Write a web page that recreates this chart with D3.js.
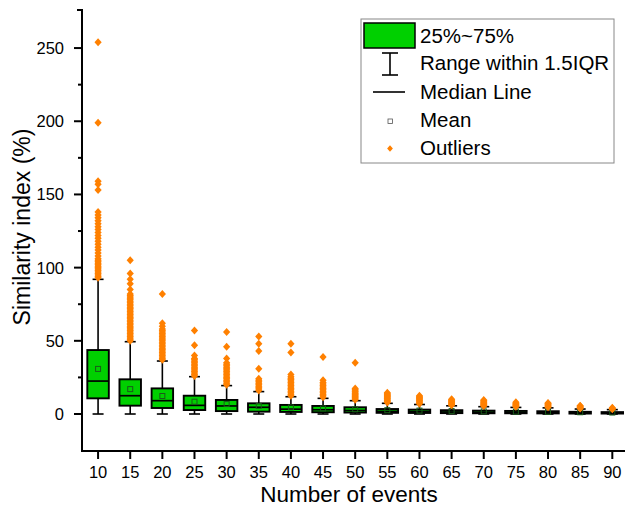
<!DOCTYPE html>
<html><head><meta charset="utf-8">
<script src="https://cdn.jsdelivr.net/npm/d3@7"></script>
<style>body{margin:0;background:#fff}svg{display:block}text{font-family:"Liberation Sans",Arial,sans-serif}</style>
</head><body>
<svg id="c" width="625" height="515"></svg>
<script>
const categories = ["10","15","20","25","30","35","40","45","50","55","60","65","70","75","80","85","90"];
const whiskerLow = [0,0,0,0,0,0,0,0,0,0,0,0,0,0,0,0,0];
const q1 =        [10.7,5.7,4.1,2.7,2.0,1.6,1.4,1.2,1.0,0.8,0.7,0.6,0.5,0.5,0.4,0.3,0.3];
const median =    [22.5,12.5,9.1,5.9,5.5,4.6,3.3,2.9,2.4,1.8,1.6,1.4,1.2,1.1,1.0,0.8,0.7];
const q3 =        [43.7,23.7,17.5,12.5,9.6,7.3,6.2,5.5,4.6,3.4,3.0,2.6,2.3,2.1,1.9,1.5,1.3];
const whiskerHigh=[92,49.4,36.2,25.5,19.4,15.3,11.8,10.7,9.1,7.3,6.5,5.6,5.0,4.5,4.2,3.4,3.0];
const means =     [30.8,17,12.3,8.4,6.8,5.5,4.5,3.8,3.2,2.6,2.3,2.0,1.8,1.6,1.5,1.2,1.0];
const outliers = [
 [93,94,95,96,97,98,99,100,101,102,103,104,105,106,108,110,112,114,116,118,120,122,124,126,128,130,132,134,136,138,153,157,159,199,254],
 [50,51,52,53,54,55,56,57,58,59,60,61,62,63,64,65,66,67,68,69,70,71,72,73,74,75,76,77,78,79,80,81,82,85,89,92,96,105],
 [37,38,39,40,41,42,43,44,45,46,47,48,49,50,51,52,53,54,55,56,57,58,60,62,82],
 [26,27,28,29,30,31,32,33,34,35,36,37,38,40,47,57],
 [20,21,22,23,24,25,26,27,28,29,30,31,32,33,34,35,38,46,56],
 [16,17,18,19,20,21,22,23,24,31,43,48,53],
 [12.5,13.5,14.5,15.5,16.5,17.5,18.5,19.5,20.5,21.5,22.5,23.5,24.5,25.5,27,42,48],
 [11.5,12.5,13.5,14.5,15.5,16.5,17.5,18.5,19.5,20.5,21.5,23,39],
 [9.8,10.5,11.2,12,12.8,13.5,14.2,15,15.8,16.6,17.5,35],
 [7.8,8.4,9,9.6,10.2,10.8,11.4,12,12.6,13.2,13.8,14.5],
 [7,7.6,8.2,8.8,9.4,10,10.6,11.2,11.8,12.5],
 [6,6.5,7,7.5,8,8.5,9,9.5,10],
 [5.4,5.9,6.4,6.9,7.4,7.9,8.4,9,9.6],
 [4.9,5.4,5.9,6.4,6.9,7.4,8],
 [4.6,5.1,5.6,6.1,6.6,7.1,7.6],
 [3.8,4.2,4.6,5,5.4,5.7],
 [3.3,3.6,3.9,4.2]
];
const yTicks = [0,50,100,150,200,250];
const yMinor = [25,75,125,175,225];
const legendLabels = ["25%~75%","Range within 1.5IQR","Median Line","Mean","Outliers"];

const GREEN = "#00d000", ORANGE = "#ff8000";
const svg = d3.select("#c");
const x = d3.scaleBand().domain(categories).range([82, 82 + 17*32.14]).padding(0);
const y = d3.scaleLinear().domain([-25, 276]).range([450.6, 10]);
const cx = c => x(c) + x.bandwidth()/2;
const bw = 21.5, cap = 11;

const g = svg.append("g");
categories.forEach((c,i)=>{
  const X = cx(c);
  g.append("line").attr("x1",X).attr("x2",X).attr("y1",y(q3[i])).attr("y2",y(whiskerHigh[i])).attr("stroke","#000").attr("stroke-width",1.6);
  g.append("line").attr("x1",X).attr("x2",X).attr("y1",y(q1[i])).attr("y2",y(whiskerLow[i])).attr("stroke","#000").attr("stroke-width",1.6);
  g.append("line").attr("x1",X-cap/2).attr("x2",X+cap/2).attr("y1",y(whiskerHigh[i])).attr("y2",y(whiskerHigh[i])).attr("stroke","#000").attr("stroke-width",1.6);
  g.append("line").attr("x1",X-cap/2).attr("x2",X+cap/2).attr("y1",y(whiskerLow[i])).attr("y2",y(whiskerLow[i])).attr("stroke","#000").attr("stroke-width",1.6);
  g.append("rect").attr("x",X-bw/2).attr("width",bw).attr("y",y(q3[i])).attr("height",y(q1[i])-y(q3[i]))
    .attr("fill",GREEN).attr("stroke","#000").attr("stroke-width",1.9);
  g.append("line").attr("x1",X-bw/2).attr("x2",X+bw/2).attr("y1",y(median[i])).attr("y2",y(median[i])).attr("stroke","#000").attr("stroke-width",1.7);
  g.append("rect").attr("x",X-2.5).attr("y",y(means[i])-2.5).attr("width",5).attr("height",5)
    .attr("fill","none").attr("stroke","#1a5a1a").attr("stroke-width",1);
});
const diamond = (X,Y,s)=>`M${X},${Y-s}L${X+s*0.9},${Y}L${X},${Y+s}L${X-s*0.9},${Y}Z`;
categories.forEach((c,i)=>{
  g.selectAll(null).data(outliers[i]).enter().append("path")
    .attr("d",d=>diamond(cx(c),y(d),4)).attr("fill",ORANGE);
});

const ax = svg.append("g");
ax.append("line").attr("x1",82).attr("x2",82).attr("y1",10).attr("y2",451).attr("stroke","#000").attr("stroke-width",2);
ax.append("line").attr("x1",77).attr("x2",83).attr("y1",10).attr("y2",10).attr("stroke","#000").attr("stroke-width",2);
ax.append("line").attr("x1",81).attr("x2",625).attr("y1",451).attr("y2",451).attr("stroke","#000").attr("stroke-width",2);
yTicks.forEach(t=>{
  ax.append("line").attr("x1",74).attr("x2",82).attr("y1",y(t)).attr("y2",y(t)).attr("stroke","#000").attr("stroke-width",2);
  ax.append("text").attr("x",64).attr("y",y(t)+6).attr("text-anchor","end").attr("font-size",16.5).text(t);
});
yMinor.forEach(t=>{
  ax.append("line").attr("x1",78).attr("x2",82).attr("y1",y(t)).attr("y2",y(t)).attr("stroke","#000").attr("stroke-width",2);
});
categories.forEach(c=>{
  ax.append("line").attr("x1",cx(c)).attr("x2",cx(c)).attr("y1",451).attr("y2",459).attr("stroke","#000").attr("stroke-width",2);
  ax.append("text").attr("x",cx(c)).attr("y",478).attr("text-anchor","middle").attr("font-size",16.5).text(c);
});
svg.append("text").attr("x",349).attr("y",502).attr("text-anchor","middle").attr("font-size",22.5).text("Number of events");
svg.append("text").attr("transform","translate(30,227) rotate(-90)").attr("text-anchor","middle").attr("font-size",23).text("Similarity index (%)");

const L = svg.append("g");
L.append("rect").attr("x",361).attr("y",19).attr("width",253).attr("height",144).attr("fill","#fff").attr("stroke","#888").attr("stroke-width",1);
L.append("rect").attr("x",364).attr("y",23).attr("width",51).attr("height",25).attr("fill",GREEN).attr("stroke","#000").attr("stroke-width",1.5);
L.append("line").attr("x1",390).attr("x2",390).attr("y1",53).attr("y2",75).attr("stroke","#000").attr("stroke-width",1.6);
L.append("line").attr("x1",382).attr("x2",398).attr("y1",53).attr("y2",53).attr("stroke","#000").attr("stroke-width",1.6);
L.append("line").attr("x1",382).attr("x2",398).attr("y1",75).attr("y2",75).attr("stroke","#000").attr("stroke-width",1.6);
L.append("line").attr("x1",373).attr("x2",405).attr("y1",92).attr("y2",92).attr("stroke","#000").attr("stroke-width",1.6);
L.append("rect").attr("x",388).attr("y",119).attr("width",4.5).attr("height",4.5).attr("fill","#fff").attr("stroke","#555").attr("stroke-width",0.8);
L.append("path").attr("d",diamond(390,148.5,3.2)).attr("fill",ORANGE);
const ly = [43,70,98.5,126.5,154.5];
legendLabels.forEach((t,i)=>{
  L.append("text").attr("x",420).attr("y",ly[i]).attr("font-size",20.5).text(t);
});
</script>
</body></html>
